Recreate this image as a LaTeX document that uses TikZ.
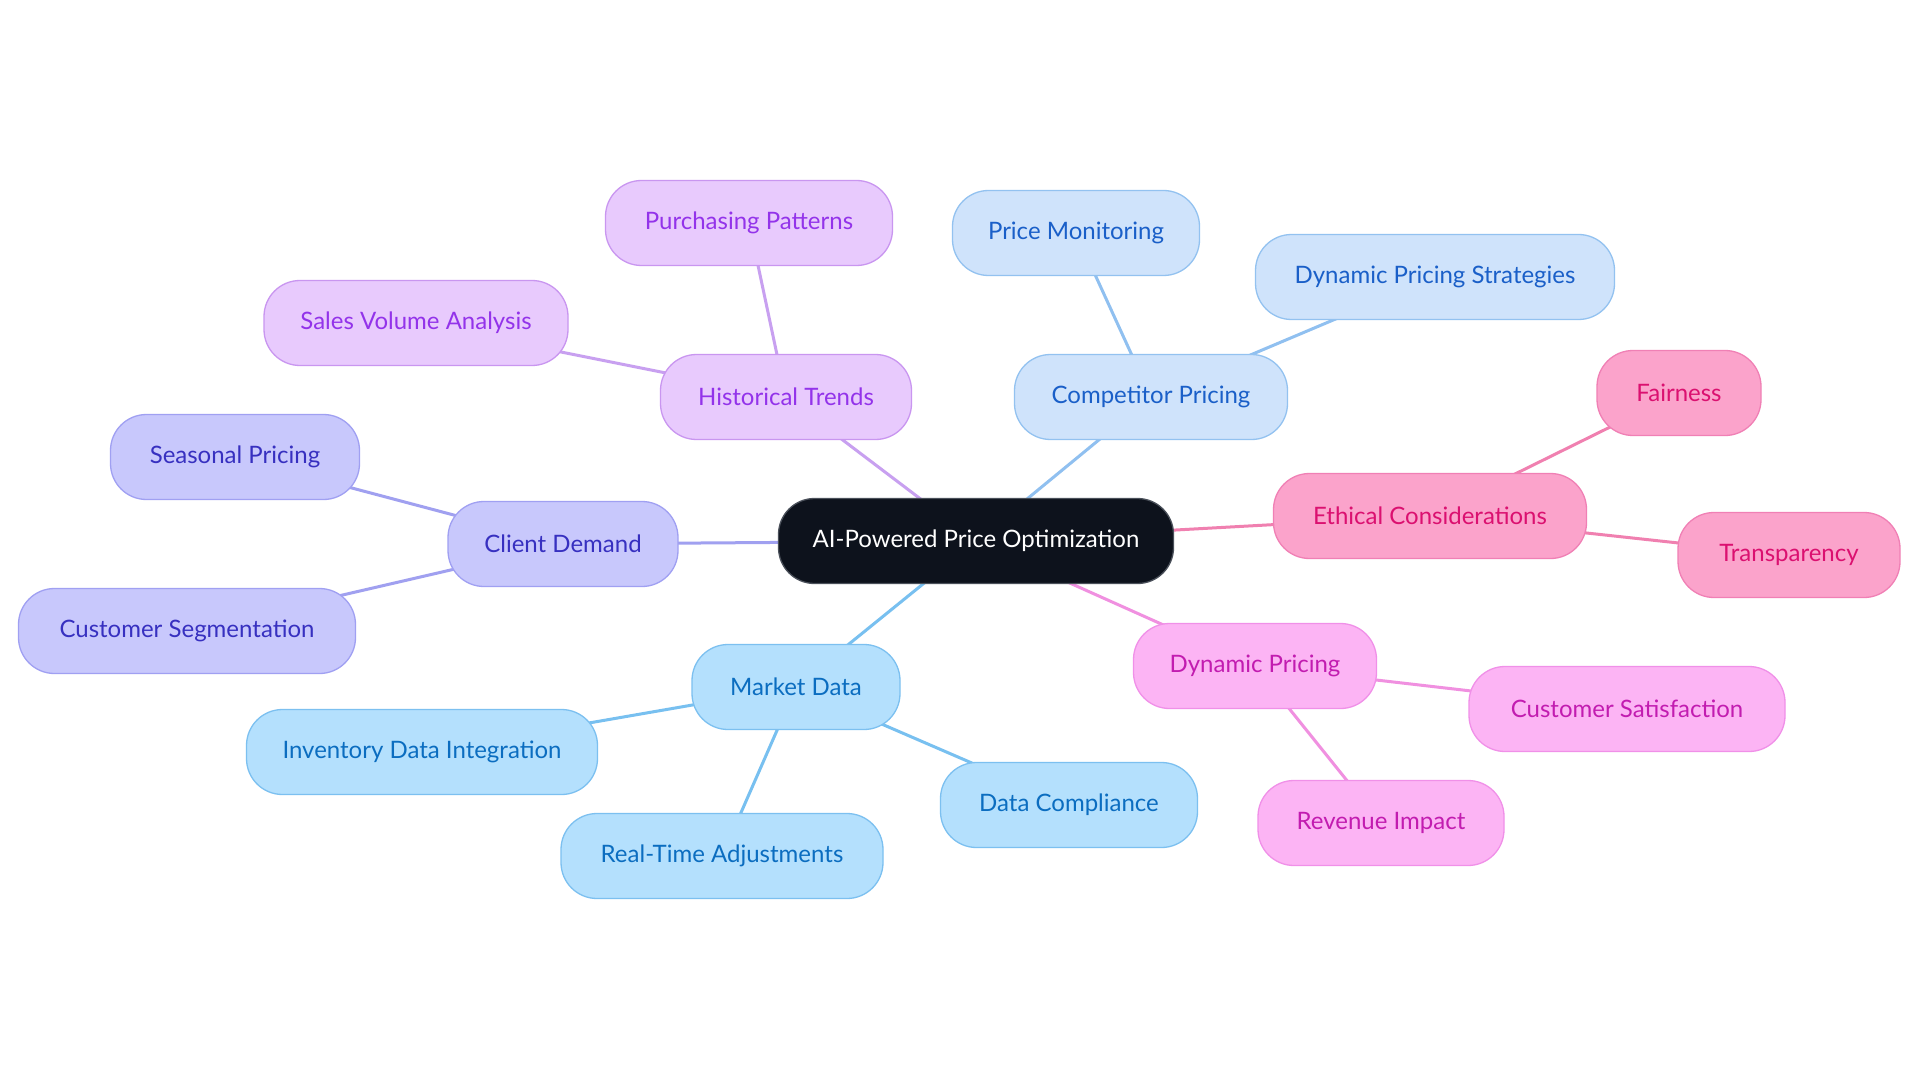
\documentclass[tikz,border=0pt]{standalone}
\usepackage{fontspec}
\setmainfont{Lato}
\usetikzlibrary{backgrounds}
\begin{document}
\begin{tikzpicture}[x=1pt,y=-1pt,
  box/.style={draw, line width=1.3pt, rounded corners=36pt, minimum height=85pt, inner sep=0pt, align=center, font=\fontsize{24}{28}\selectfont},
  rootbox/.style={box, fill=rootfill, draw=rootdraw, text=white},
  purp/.style={box, fill=purfill, draw=purdraw, text=purtext},
  blu/.style={box, fill=blufill, draw=bludraw, text=blutext},
  ind/.style={box, fill=indfill, draw=inddraw, text=indtext},
  pnk/.style={box, fill=pnkfill, draw=pnkdraw, text=pnktext},
  sky/.style={box, fill=skyfill, draw=skydraw, text=skytext},
  fuc/.style={box, fill=fucfill, draw=fucdraw, text=fuctext},
  link/.style={line width=3pt}
]
\definecolor{rootfill}{HTML}{0D121C}
\definecolor{rootdraw}{HTML}{4A505A}
\definecolor{purfill}{HTML}{E8CAFD}
\definecolor{purdraw}{HTML}{C996F0}
\definecolor{purtext}{HTML}{9333EA}
\definecolor{purline}{HTML}{C8A0F0}
\definecolor{blufill}{HTML}{CFE3FB}
\definecolor{bludraw}{HTML}{93C2F0}
\definecolor{blutext}{HTML}{1A5FC8}
\definecolor{bluline}{HTML}{90C0F0}
\definecolor{indfill}{HTML}{C8C8FC}
\definecolor{inddraw}{HTML}{A0A0F2}
\definecolor{indtext}{HTML}{3730C0}
\definecolor{indline}{HTML}{A0A0F0}
\definecolor{pnkfill}{HTML}{FBA3CB}
\definecolor{pnkdraw}{HTML}{F080B5}
\definecolor{pnktext}{HTML}{DB1070}
\definecolor{pnkline}{HTML}{F080B0}
\definecolor{skyfill}{HTML}{B4E0FD}
\definecolor{skydraw}{HTML}{7CC0F0}
\definecolor{skytext}{HTML}{0B6DC0}
\definecolor{skyline}{HTML}{78C0F0}
\definecolor{fucfill}{HTML}{FCB4F4}
\definecolor{fucdraw}{HTML}{F090E8}
\definecolor{fuctext}{HTML}{C21CB0}
\definecolor{fucline}{HTML}{F090E0}

\useasboundingbox (0,0) rectangle (1920,1083);

\node[rootbox, minimum width=395pt] (root) at (976,541) {AI-Powered Price Optimization};

\node[purp, minimum width=251pt] (hist) at (786,397) {Historical Trends};
\node[purp, minimum width=287pt] (purch) at (749,223) {Purchasing Patterns};
\node[purp, minimum width=304pt] (sales) at (416,323) {Sales Volume Analysis};

\node[blu, minimum width=273pt] (comp) at (1151,397) {Competitor Pricing};
\node[blu, minimum width=247pt] (mon) at (1076,233) {Price Monitoring};
\node[blu, minimum width=359pt] (dps) at (1435,277) {Dynamic Pricing Strategies};

\node[ind, minimum width=230pt] (client) at (563,544) {Client Demand};
\node[ind, minimum width=249pt] (season) at (235,457) {Seasonal Pricing};
\node[ind, minimum width=337pt] (segm) at (187,631) {Customer Segmentation};

\node[pnk, minimum width=313pt] (eth) at (1430,516) {Ethical Considerations};
\node[pnk, minimum width=164pt] (fair) at (1679,393) {Fairness};
\node[pnk, minimum width=222pt] (transp) at (1789,555) {Transparency};

\node[sky, minimum width=208pt] (market) at (796,687) {Market Data};
\node[sky, minimum width=351pt] (inv) at (422,752) {Inventory Data Integration};
\node[sky, minimum width=322pt] (rta) at (722,856) {Real-Time Adjustments};
\node[sky, minimum width=257pt] (dc) at (1069,805) {Data Compliance};

\node[fuc, minimum width=243pt] (dyn) at (1255,666) {Dynamic Pricing};
\node[fuc, minimum width=316pt] (csat) at (1627,709) {Customer Satisfaction};
\node[fuc, minimum width=246pt] (rev) at (1381,823) {Revenue Impact};

\begin{scope}[on background layer]
\fill[white] (0,0) rectangle (1920,1083);
\draw[link, purline] (root.center) -- (hist.center);
\draw[link, purline] (hist.center) -- (purch.center);
\draw[link, purline] (hist.center) -- (sales.center);
\draw[link, bluline] (root.center) -- (comp.center);
\draw[link, bluline] (comp.center) -- (mon.center);
\draw[link, bluline] (comp.center) -- (dps.center);
\draw[link, indline] (root.center) -- (client.center);
\draw[link, indline] (client.center) -- (season.center);
\draw[link, indline] (client.center) -- (segm.center);
\draw[link, pnkline] (root.center) -- (eth.center);
\draw[link, pnkline] (eth.center) -- (fair.center);
\draw[link, pnkline] (eth.center) -- (transp.center);
\draw[link, skyline] (root.center) -- (market.center);
\draw[link, skyline] (market.center) -- (inv.center);
\draw[link, skyline] (market.center) -- (rta.center);
\draw[link, skyline] (market.center) -- (dc.center);
\draw[link, fucline] (root.center) -- (dyn.center);
\draw[link, fucline] (dyn.center) -- (csat.center);
\draw[link, fucline] (dyn.center) -- (rev.center);
\end{scope}
\end{tikzpicture}
\end{document}
